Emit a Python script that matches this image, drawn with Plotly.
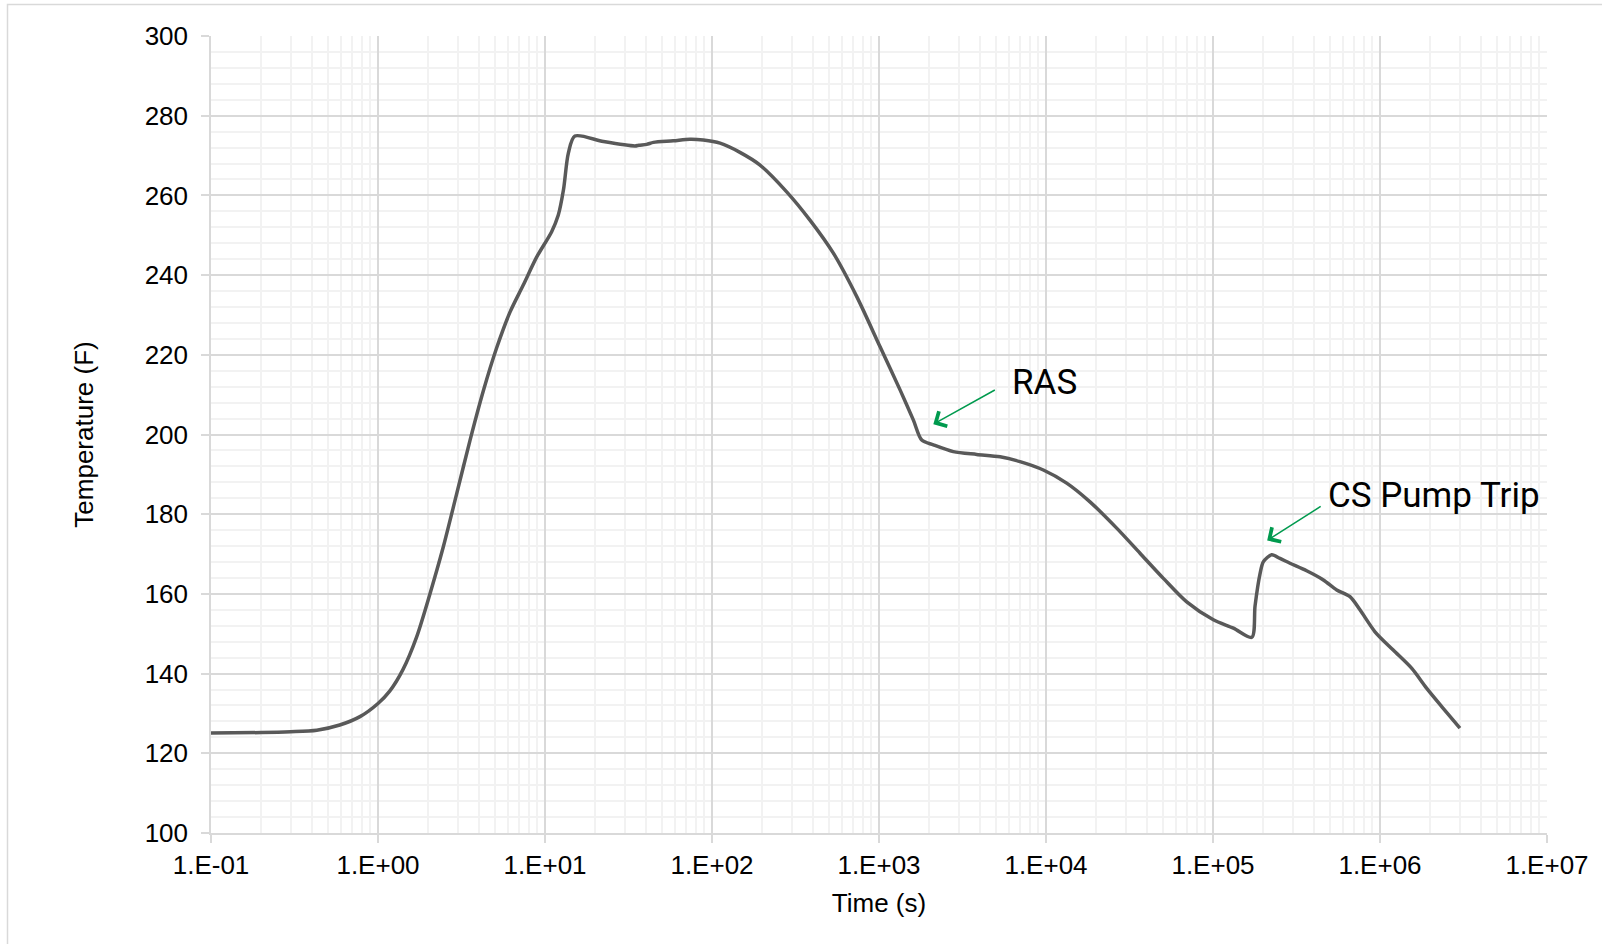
import numpy as np
import plotly.graph_objects as go

# ---- data ----
time_s = [0.1, 0.2, 0.3, 0.43, 0.59, 0.78, 1.0, 1.175, 1.41, 1.70, 2.04, 2.45, 2.95,
          3.55, 4.27, 5.13, 6.17, 7.41, 8.91, 10.96, 12.0, 12.9, 13.8, 15.1, 22.4,
          34.6, 36.5, 40.6, 44.6, 58.6, 73.8, 88.7, 111.8, 147, 194, 280, 386, 533,
          736, 1015, 1337, 1607, 1803, 2116, 2786, 3846, 5310, 6986, 9640, 13300,
          18340, 26500, 36560, 50440, 69600, 100500, 132500, 170700, 178600, 191200,
          200400, 224600, 251800, 289000, 363700, 458000, 550500, 661000, 758600,
          933000, 1.2e6, 1.55e6, 1.905e6, 2.39e6, 3.01e6]
temp_f = [125.1, 125.2, 125.4, 125.8, 127.1, 129.2, 132.5, 135.6, 141.0, 149.1, 159.8,
          171.5, 184.9, 198.4, 210.9, 221.7, 230.7, 237.5, 244.5, 250.9, 255.0, 261.4,
          270.6, 274.9, 273.5, 272.4, 272.6, 272.8, 273.3, 273.7, 274.1, 273.9, 273.1,
          270.8, 267.6, 260.9, 253.8, 245.5, 234.6, 222.0, 211.2, 203.6, 198.6, 197.4,
          195.7, 195.0, 194.4, 193.2, 191.1, 187.8, 183.1, 176.5, 170.2, 163.9, 158.0,
          153.5, 151.4, 149.1, 157.0, 165.0, 168.1, 169.8, 168.9, 167.7, 165.8, 163.5,
          161.0, 159.3, 156.0, 150.5, 145.9, 141.3, 136.3, 131.3, 126.3]

x_tick_vals = [1e-1, 1e0, 1e1, 1e2, 1e3, 1e4, 1e5, 1e6, 1e7]
x_tick_text = ["1.E-01", "1.E+00", "1.E+01", "1.E+02", "1.E+03", "1.E+04",
               "1.E+05", "1.E+06", "1.E+07"]

# annotations: label, arrow tip (time, temp), label anchor (time, temp)
notes = [
    ("RAS", (2115, 202.6), (6050, 213.1)),
    ("CS Pump Trip", (211000, 173.4), (475000, 184.8)),
]
arrow_tails = [(63, -35), (55, -35)]

FONT = "Liberation Sans, Arial, sans-serif"
MAJOR = "#D9D9D9"
MINOR = "#F2F2F2"
GREEN = "#009A4E"

fig = go.Figure()
fig.add_trace(go.Scatter(x=time_s, y=temp_f, mode="lines",
                         line=dict(color="#595959", width=3.5, shape="spline", smoothing=0.8),
                         showlegend=False, hoverinfo="skip"))

for (label, tip, pos), (ax, ay) in zip(notes, arrow_tails):
    fig.add_annotation(x=np.log10(tip[0]), y=tip[1], xref="x", yref="y",
                       text="", showarrow=True, ax=ax, ay=ay,
                       arrowhead=4, arrowsize=2.2, arrowwidth=1.5,
                       arrowcolor=GREEN, standoff=0)
    fig.add_annotation(x=np.log10(pos[0]), y=pos[1], xref="x", yref="y",
                       text=label, showarrow=False, xanchor="left", yanchor="middle",
                       font=dict(family="Roboto", size=35, color="black"))

W, H = 1602, 944
L, R, T, B = 211, 55, 36, 111
pw, ph = W - L - R, H - T - B

fig.update_layout(
    width=W, height=H,
    margin=dict(l=L, r=R, t=T, b=B),
    paper_bgcolor="white", plot_bgcolor="white",
    font=dict(family=FONT, size=26, color="black"),
    shapes=[dict(type="rect", xref="paper", yref="paper",
                 x0=(7.5 - L) / pw, x1=(W + 20 - L) / pw,
                 y0=-(H + 20 - (H - B)) / ph, y1=1 + (T - 4.5) / ph,
                 line=dict(color="#D9D9D9", width=1.5), layer="below")],
)

fig.update_xaxes(
    type="log", range=[-1, 7],
    tickvals=x_tick_vals, ticktext=x_tick_text,
    ticks="outside", ticklen=8, tickcolor=MAJOR, tickwidth=1.5,
    showline=True, linecolor=MAJOR, linewidth=1.5,
    showgrid=True, gridcolor=MAJOR, gridwidth=1.5,
    minor=dict(dtick="D1", showgrid=True, gridcolor=MINOR, gridwidth=1.5, ticks=""),
    tickfont=dict(size=26, family=FONT),
    title=dict(text="Time (s)", font=dict(size=26, family=FONT), standoff=15),
    zeroline=False,
)
fig.update_yaxes(
    range=[100, 300], dtick=20, tick0=100,
    ticks="outside", ticklen=8, tickcolor=MAJOR, tickwidth=1.5,
    showline=True, linecolor=MAJOR, linewidth=1.5,
    showgrid=True, gridcolor=MAJOR, gridwidth=1.5,
    minor=dict(dtick=4, showgrid=True, gridcolor=MINOR, gridwidth=1.5, ticks=""),
    tickfont=dict(size=26, family=FONT), ticklabelstandoff=8,
    title=dict(text="Temperature (F)", font=dict(size=26, family=FONT), standoff=44),
    zeroline=False,
)

fig.write_html("out.html", config={"displayModeBar": False},
               post_script="document.body.style.margin='0';")
